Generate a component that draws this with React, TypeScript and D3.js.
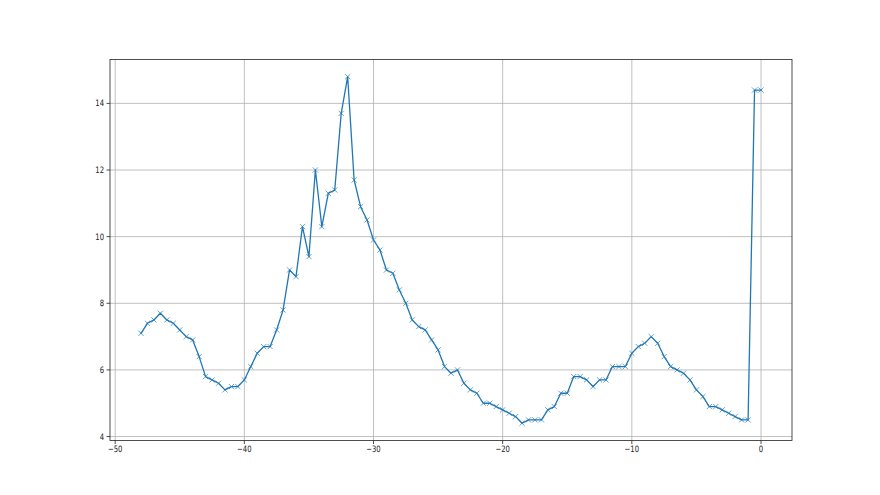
import React from "react";
import * as d3 from "d3";

const xValues: number[] = d3.range(-48, 0.001, 0.5).map((v) => Math.round(v * 10) / 10);
const yValues: number[] = [
  7.1, 7.4, 7.5, 7.7, 7.5, 7.4, 7.2, 7.0, 6.9, 6.4,
  5.8, 5.7, 5.6, 5.4, 5.5, 5.5, 5.7, 6.1, 6.5, 6.7,
  6.7, 7.2, 7.8, 9.0, 8.8, 10.3, 9.4, 12.0, 10.3, 11.3,
  11.4, 13.7, 14.8, 11.7, 10.9, 10.5, 9.9, 9.6, 9.0, 8.9,
  8.4, 8.0, 7.5, 7.3, 7.2, 6.9, 6.6, 6.1, 5.9, 6.0,
  5.6, 5.4, 5.3, 5.0, 5.0, 4.9, 4.8, 4.7, 4.6, 4.4,
  4.5, 4.5, 4.5, 4.8, 4.9, 5.3, 5.3, 5.8, 5.8, 5.7,
  5.5, 5.7, 5.7, 6.1, 6.1, 6.1, 6.5, 6.7, 6.8, 7.0,
  6.8, 6.4, 6.1, 6.0, 5.9, 5.7, 5.4, 5.2, 4.9, 4.9,
  4.8, 4.7, 4.6, 4.5, 4.5, 14.4, 14.4,
];
const xTicks: number[] = [-50, -40, -30, -20, -10, 0];
const yTicks: number[] = [4, 6, 8, 10, 12, 14];

const W = 880;
const H = 495;
const left = 110;
const right = 792;
const top = 59.4;
const bottom = 440.55;

export default function App() {
  const pts = xValues.map((x, i) => [x, yValues[i]] as [number, number]);
  const xmin = d3.min(xValues)!;
  const xmax = d3.max(xValues)!;
  const ymin = d3.min(yValues)!;
  const ymax = d3.max(yValues)!;
  const xm = (xmax - xmin) * 0.05;
  const ym = (ymax - ymin) * 0.05;
  const x = d3.scaleLinear().domain([xmin - xm, xmax + xm]).range([left, right]);
  const y = d3.scaleLinear().domain([ymin - ym, ymax + ym]).range([bottom, top]);
  const line = d3.line<[number, number]>().x((d) => x(d[0])).y((d) => y(d[1]));
  const font = "'DejaVu Sans', sans-serif";
  const ms = 2.6;
  const sx = 0.78;
  return (
    <svg width={W} height={H} style={{ position: "absolute", left: 0, top: 0, background: "#fff" }}>
      <rect x={0} y={0} width={W} height={H} fill="#fff" />
      <g>
        {xTicks.map((t) => (
          <line key={"gx" + t} x1={x(t)} x2={x(t)} y1={top} y2={bottom} stroke="#b0b0b0" strokeWidth={0.8} />
        ))}
        {yTicks.map((t) => (
          <line key={"gy" + t} x1={left} x2={right} y1={y(t)} y2={y(t)} stroke="#b0b0b0" strokeWidth={0.8} />
        ))}
      </g>
      <path d={line(pts) || ""} fill="none" stroke="#1f77b4" strokeWidth={1.3} strokeLinejoin="round" strokeLinecap="square" />
      <g stroke="#1f77b4" strokeWidth={0.8} strokeOpacity={0.85}>
        {pts.map((p, i) => {
          const cx = x(p[0]);
          const cy = y(p[1]);
          return (
            <g key={i}>
              <line x1={cx - ms} y1={cy - ms} x2={cx + ms} y2={cy + ms} />
              <line x1={cx - ms} y1={cy + ms} x2={cx + ms} y2={cy - ms} />
            </g>
          );
        })}
      </g>
      <rect x={left} y={top} width={right - left} height={bottom - top} fill="none" stroke="#222" strokeWidth={0.8} />
      <g fontFamily={font} fontSize={8.8} fill="#222">
        {xTicks.map((t) => (
          <g key={"tx" + t}>
            <line x1={x(t)} x2={x(t)} y1={bottom} y2={bottom + 3.5} stroke="#222" strokeWidth={0.8} />
            <text transform={`translate(${x(t)},${bottom + 11.5}) scale(${sx},1)`} textAnchor="middle">
              {t < 0 ? "\u2212" + Math.abs(t) : String(t)}
            </text>
          </g>
        ))}
        {yTicks.map((t) => (
          <g key={"ty" + t}>
            <line x1={left - 3.5} x2={left} y1={y(t)} y2={y(t)} stroke="#222" strokeWidth={0.8} />
            <text transform={`translate(${left - 6},${y(t)}) scale(${sx},1)`} dy="0.35em" textAnchor="end">
              {String(t)}
            </text>
          </g>
        ))}
      </g>
    </svg>
  );
}
